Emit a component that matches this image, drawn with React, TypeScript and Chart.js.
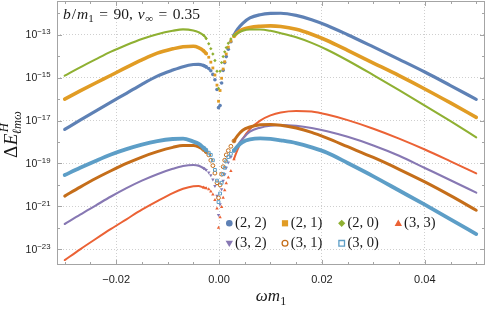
import React, { useEffect, useRef } from "react";
import { Chart, registerables } from "chart.js";

Chart.register(...registerables);

// ---------- data (y stored as log10 of ΔE) ----------
const OMEGA = [
  -0.030, -0.027, -0.024, -0.021, -0.018, -0.015, -0.012, -0.009, -0.007, -0.005,
  -0.004, -0.003, -0.0025, -0.002, -0.0016, -0.0012, -0.0008, -0.0004, -0.0001, 0.0002,
  0.0005, 0.0008, 0.0011, 0.0014, 0.0018, 0.0023, 0.0029, 0.0036, 0.0046, 0.006,
  0.008, 0.010, 0.012, 0.015, 0.018, 0.021, 0.025, 0.030, 0.035, 0.040,
  0.045, 0.050,
];

const LOG_22 = [
  -17.41, -16.98, -16.56, -16.14, -15.73, -15.31, -14.93, -14.65, -14.49, -14.39,
  -14.38, -14.44, -14.50, -14.58, -14.68, -14.85, -15.10, -15.55, -16.40, -16.30,
  -15.25, -14.66, -14.30, -14.02, -13.68, -13.33, -13.02, -12.74, -12.47, -12.22,
  -12.07, -12.01, -12.00, -12.10, -12.30, -12.57, -13.00, -13.57, -14.15, -14.74,
  -15.37, -16.01,
];
const LOG_21 = [
  -16.00, -15.62, -15.25, -14.89, -14.52, -14.17, -13.86, -13.66, -13.56, -13.54,
  -13.60, -13.75, -13.88, -14.05, -14.28, -14.55, -14.88, -15.35, -16.10, -15.60,
  -15.03, -14.60, -14.26, -13.90, -13.58, -13.30, -13.08, -12.90, -12.75, -12.66,
  -12.61, -12.59, -12.62, -12.75, -12.98, -13.27, -13.73, -14.32, -14.91, -15.53,
  -16.18, -16.85,
];
const LOG_20 = [
  -14.91, -14.52, -14.15, -13.79, -13.48, -13.20, -12.98, -12.82, -12.75, -12.80,
  -12.88, -13.03, -13.18, -13.42, -13.65, -13.90, -14.20, -14.70, -15.50, -14.70,
  -14.30, -14.02, -13.80, -13.60, -13.40, -13.20, -13.05, -12.93, -12.82, -12.76,
  -12.76, -12.82, -12.93, -13.12, -13.38, -13.70, -14.20, -14.88, -15.58, -16.30,
  -17.03, -17.78,
];
const LOG_33 = [
  -23.50, -23.00, -22.52, -22.05, -21.60, -21.15, -20.75, -20.38, -20.18, -20.06,
  -20.05, -20.12, -20.15, -20.20, -20.30, -20.45, -20.70, -21.10, -22.00, -21.50,
  -21.03, -20.60, -20.25, -19.92, -19.65, -19.35, -18.80, -18.35, -17.85, -17.40,
  -17.00, -16.76, -16.62, -16.55, -16.58, -16.72, -16.98, -17.38, -17.84, -18.35,
  -18.90, -19.46,
];
const LOG_32 = [
  -21.82, -21.38, -20.96, -20.54, -20.15, -19.80, -19.50, -19.25, -19.12, -19.07,
  -19.10, -19.22, -19.30, -19.42, -19.55, -19.75, -20.05, -20.50, -21.40, -20.90,
  -20.20, -19.80, -19.50, -19.20, -18.95, -18.70, -18.42, -18.15, -17.85, -17.52,
  -17.33, -17.24, -17.21, -17.25, -17.35, -17.50, -17.76, -18.16, -18.64, -19.21,
  -19.78, -20.36,
];
const LOG_31 = [
  -20.52, -20.10, -19.70, -19.34, -19.00, -18.70, -18.45, -18.25, -18.16, -18.16,
  -18.22, -18.35, -18.45, -18.60, -18.85, -19.10, -19.45, -19.90, -20.60, -20.00,
  -19.50, -19.15, -18.85, -18.60, -18.40, -18.20, -17.95, -17.70, -17.45, -17.30,
  -17.20, -17.18, -17.22, -17.35, -17.55, -17.82, -18.22, -18.72, -19.27, -19.86,
  -20.50, -21.18,
];
const LOG_30 = [
  -19.54, -19.20, -18.88, -18.58, -18.33, -18.12, -17.96, -17.86, -17.84, -17.98,
  -18.08, -18.27, -18.38, -18.50, -18.60, -18.85, -19.30, -19.80, -20.80, -20.40,
  -19.90, -19.50, -19.20, -18.90, -18.70, -18.55, -18.40, -18.20, -18.00, -17.88,
  -17.83, -17.85, -17.92, -18.05, -18.25, -18.50, -18.98, -19.60, -20.26, -20.92,
  -21.60, -22.29,
];

const SERIES_LABELS = ["(2, 2)", "(2, 1)", "(2, 0)", "(3, 3)", "(3, 2)", "(3, 1)", "(3, 0)"];

const X_MAJOR = [-0.02, 0, 0.02, 0.04];
const X_MAJOR_LABELS = ["\u22120.02", "0.00", "0.02", "0.04"];
const X_MINOR = [-0.03, -0.025, -0.015, -0.01, -0.005, 0.005, 0.01, 0.015, 0.025, 0.03, 0.035, 0.045, 0.05];
const Y_MAJOR_EXP = [-13, -15, -17, -19, -21, -23];
const Y_MINOR_EXP = [-12, -14, -16, -18, -20, -22];

// ---------- styling ----------
const SERIES_LOGS = [LOG_22, LOG_21, LOG_20, LOG_33, LOG_32, LOG_31, LOG_30];
const COLORS = ["#5E81B5", "#E19C24", "#8FB032", "#EB6235", "#8778B3", "#C56E1A", "#5D9EC7"];
const SHAPES = ["circle", "square", "diamond", "triUp", "triDown", "circle", "square"];
const FILLED = [true, true, true, true, true, false, false];
const LINE_W = [3.2, 3.6, 2.1, 2.0, 2.1, 3.0, 3.8];
const PT_R = [1.8, 2.0, 1.7, 2.0, 2.0, 1.9, 2.0];

const X_MIN = -0.0315;
const X_MAX = 0.0517;
const Y_MIN = Math.pow(10, -23.73);
const Y_MAX = Math.pow(10, -11.43);

const FRAME = "#a4a4a4";
const GRID = "#cfcfcf";
const TEXT = "#222222";
const SANS = '"Liberation Sans", Arial, sans-serif';
const SERIF = '"Liberation Serif", "Times New Roman", serif';

const near = (a: number, b: number) => Math.abs(a - b) < 1e-9;
const isMajorX = (v: number) => X_MAJOR.some((m) => near(m, v));

function chartStyle(shape: string) {
  if (shape === "circle") return "circle";
  if (shape === "square") return "rect";
  if (shape === "diamond") return "rectRot";
  return "triangle";
}

function drawMarker(ctx: CanvasRenderingContext2D, shape: string, filled: boolean, color: string, x: number, y: number) {
  ctx.save();
  ctx.fillStyle = color;
  ctx.strokeStyle = color;
  ctx.lineWidth = 1.3;
  ctx.beginPath();
  if (shape === "circle") {
    ctx.arc(x, y, filled ? 3.3 : 2.9, 0, Math.PI * 2);
  } else if (shape === "square") {
    const h = filled ? 3.1 : 2.8;
    ctx.rect(x - h, y - h, 2 * h, 2 * h);
  } else if (shape === "diamond") {
    const r = 3.6;
    ctx.moveTo(x, y - r);
    ctx.lineTo(x + r, y);
    ctx.lineTo(x, y + r);
    ctx.lineTo(x - r, y);
    ctx.closePath();
  } else if (shape === "triUp") {
    ctx.moveTo(x, y - 3.8);
    ctx.lineTo(x + 3.7, y + 2.6);
    ctx.lineTo(x - 3.7, y + 2.6);
    ctx.closePath();
  } else {
    ctx.moveTo(x, y + 3.8);
    ctx.lineTo(x + 3.7, y - 2.6);
    ctx.lineTo(x - 3.7, y - 2.6);
    ctx.closePath();
  }
  if (filled) ctx.fill();
  else ctx.stroke();
  ctx.restore();
}

type Run = { t: string; font: string; dy?: number; dx?: number };
function drawRuns(ctx: CanvasRenderingContext2D, runs: Run[], x: number, y: number, draw = true) {
  let cx = x;
  for (const r of runs) {
    ctx.font = r.font;
    cx += r.dx || 0;
    if (draw) ctx.fillText(r.t, cx, y + (r.dy || 0));
    cx += ctx.measureText(r.t).width;
  }
  return cx - x;
}

const decor = {
  id: "decor",
  afterDraw(chart: any) {
    const { ctx, chartArea: a } = chart;
    const xs = chart.scales.x;
    const ys = chart.scales.y;
    ctx.save();

    // frame
    const L = Math.round(a.left) + 0.5;
    const R = Math.round(a.right) - 0.5;
    const T = Math.round(a.top) + 0.5;
    const B = Math.round(a.bottom) - 0.5;
    ctx.strokeStyle = FRAME;
    ctx.lineWidth = 1;
    ctx.strokeRect(L, T, R - L, B - T);

    // inward ticks
    ctx.beginPath();
    for (const v of [...X_MAJOR, ...X_MINOR]) {
      const px = Math.round(xs.getPixelForValue(v)) + 0.5;
      const len = isMajorX(v) ? 4.5 : 2.5;
      ctx.moveTo(px, B);
      ctx.lineTo(px, B - len);
      ctx.moveTo(px, T);
      ctx.lineTo(px, T + len);
    }
    for (const e of [...Y_MAJOR_EXP, ...Y_MINOR_EXP]) {
      const py = Math.round(ys.getPixelForValue(Math.pow(10, e))) + 0.5;
      const len = Y_MAJOR_EXP.includes(e) ? 4.5 : 2.5;
      ctx.moveTo(L, py);
      ctx.lineTo(L + len, py);
      ctx.moveTo(R, py);
      ctx.lineTo(R - len, py);
    }
    ctx.stroke();

    // y tick labels 10^e
    ctx.fillStyle = TEXT;
    ctx.textBaseline = "alphabetic";
    ctx.textAlign = "left";
    for (const e of Y_MAJOR_EXP) {
      const py = ys.getPixelForValue(Math.pow(10, e));
      const sup = "\u2212" + String(-e);
      ctx.font = `7.8px ${SANS}`;
      const supW = ctx.measureText(sup).width;
      ctx.font = `10.5px ${SANS}`;
      const baseW = ctx.measureText("10").width;
      const right = 50.5;
      ctx.fillText("10", right - supW - baseW, py + 3.8);
      ctx.font = `7.8px ${SANS}`;
      ctx.fillText(sup, right - supW, py - 0.8);
    }

    // annotation
    ctx.fillStyle = "#1a1a1a";
    const itA = `italic 15.5px ${SERIF}`;
    const upA = `15.5px ${SERIF}`;
    const subA = `11px ${SERIF}`;
    drawRuns(ctx, [
      { t: "b", font: itA },
      { t: "/", font: upA, dx: 1 },
      { t: "m", font: itA, dx: 1 },
      { t: "1", font: subA, dy: 3 },
      { t: "=", font: upA, dx: 5.5 },
      { t: "90,", font: upA, dx: 5.5 },
      { t: "v", font: itA, dx: 5 },
      { t: "\u221E", font: subA, dy: 3, dx: 0.5 },
      { t: "=", font: upA, dx: 5.5 },
      { t: "0.35", font: upA, dx: 5.5 },
    ], 63, 18.5);

    // x title
    const it17 = `italic 17px ${SERIF}`;
    const xRuns: Run[] = [
      { t: "\u03C9", font: it17 },
      { t: "m", font: it17 },
      { t: "1", font: `12px ${SERIF}`, dy: 3.5 },
    ];
    const xw = drawRuns(ctx, xRuns, 0, 0, false);
    const cx = (a.left + a.right) / 2;
    drawRuns(ctx, xRuns, cx - xw / 2, 301);

    // y title (rotated)
    ctx.save();
    ctx.translate(16.5, 158);
    ctx.rotate(-Math.PI / 2);
    const w1 = drawRuns(ctx, [
      { t: "\u0394", font: `19px ${SERIF}` },
      { t: "E", font: `italic 19px ${SERIF}`, dx: 0.5 },
    ], 0, 0);
    ctx.font = `italic 12.5px ${SERIF}`;
    ctx.fillText("H", w1 + 1.5, -8.5);
    ctx.fillText("\u2113m\u03C9", w1 - 0.5, 4.5);
    ctx.restore();

    // legend
    const legX = [229.3, 285, 341.7, 398.3];
    const legY = [223.3, 243.3];
    SERIES_LABELS.forEach((lab, i) => {
      const row = i < 4 ? 0 : 1;
      const col = i < 4 ? i : i - 4;
      const mx = legX[col];
      const my = legY[row];
      drawMarker(ctx, SHAPES[i], FILLED[i], COLORS[i], mx, my);
      ctx.font = `14.5px ${SERIF}`;
      ctx.fillStyle = "#1a1a1a";
      ctx.fillText(lab, mx + 5.8, my + 3.6);
    });

    ctx.restore();
  },
};

export default function App() {
  const ref = useRef<HTMLCanvasElement>(null);

  useEffect(() => {
    const canvas = ref.current;
    if (!canvas) return;
    const datasets = SERIES_LOGS.map((logs, i) => ({
      label: SERIES_LABELS[i],
      data: OMEGA.map((x, j) => ({ x, y: Math.pow(10, logs[j]) })),
      borderColor: COLORS[i],
      backgroundColor: COLORS[i],
      borderWidth: LINE_W[i],
      borderCapStyle: "round" as const,
      borderJoinStyle: "round" as const,
      cubicInterpolationMode: "monotone" as const,
      pointStyle: chartStyle(SHAPES[i]) as any,
      pointRotation: SHAPES[i] === "triDown" ? 180 : 0,
      pointRadius: (c: any) => (c.raw && Math.abs(c.raw.x) <= 0.003 ? PT_R[i] : 0),
      pointBackgroundColor: FILLED[i] ? COLORS[i] : "rgba(255,255,255,0)",
      pointBorderColor: COLORS[i],
      pointBorderWidth: FILLED[i] ? 0 : 1,
      segment: {
        borderColor: (c: any) =>
          Math.abs(c.p0.parsed.x) < 0.0024 || Math.abs(c.p1.parsed.x) < 0.0024 ? "rgba(0,0,0,0)" : undefined,
      },
      order: 7 - i,
    }));

    const chart = new Chart(canvas, {
      type: "line",
      data: { datasets },
      options: {
        animation: false,
        responsive: false,
        devicePixelRatio: 1,
        events: [],
        layout: { padding: { top: 1, right: 3, left: 0, bottom: 0 } },
        plugins: { legend: { display: false }, tooltip: { enabled: false } },
        scales: {
          x: {
            type: "linear",
            min: X_MIN,
            max: X_MAX,
            afterBuildTicks: (s: any) => {
              s.ticks = [...X_MAJOR, ...X_MINOR].sort((p, q) => p - q).map((v) => ({ value: v }));
            },
            afterFit: (s: any) => {
              s.height = 44;
            },
            grid: {
              drawTicks: false,
              lineWidth: 1,
              color: (c: any) => (c.tick && isMajorX(c.tick.value) ? GRID : "rgba(0,0,0,0)"),
            },
            border: { display: false, dash: [1, 2] },
            ticks: {
              autoSkip: false,
              maxRotation: 0,
              minRotation: 0,
              padding: 8,
              color: TEXT,
              font: { family: SANS, size: 11 },
              callback: (v: any) => {
                const k = X_MAJOR.findIndex((m) => near(m, Number(v)));
                return k >= 0 ? X_MAJOR_LABELS[k] : "";
              },
            },
          },
          y: {
            type: "logarithmic",
            min: Y_MIN,
            max: Y_MAX,
            afterBuildTicks: (s: any) => {
              s.ticks = [...Y_MAJOR_EXP, ...Y_MINOR_EXP]
                .sort((p, q) => p - q)
                .map((e) => ({ value: Math.pow(10, e) }));
            },
            afterFit: (s: any) => {
              s.width = 57;
            },
            grid: {
              drawTicks: false,
              lineWidth: 1,
              color: (c: any) => {
                if (!c.tick) return "rgba(0,0,0,0)";
                const e = Math.round(Math.log10(c.tick.value));
                return Y_MAJOR_EXP.includes(e) ? GRID : "rgba(0,0,0,0)";
              },
            },
            border: { display: false, dash: [1, 2] },
            ticks: { display: false },
          },
        },
      },
      plugins: [decor],
    });
    return () => chart.destroy();
  }, []);

  return (
    <div style={{ position: "fixed", left: 0, top: 0, width: 488, height: 309, background: "#fff" }}>
      <canvas ref={ref} width={488} height={309} style={{ display: "block", width: 488, height: 309 }} />
    </div>
  );
}
